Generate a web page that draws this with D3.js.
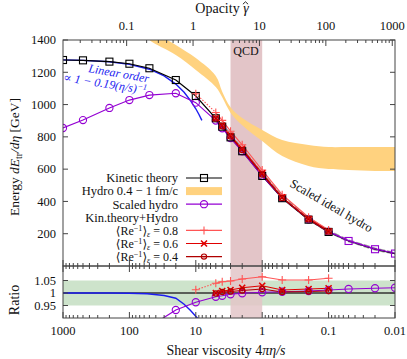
<!DOCTYPE html>
<html><head><meta charset="utf-8">
<script src="https://cdn.jsdelivr.net/npm/d3@7"></script>
<style>
body{margin:0;background:#fff}
text{font-family:"Liberation Serif","DejaVu Serif",serif;fill:#111}
</style>
</head><body>
<svg id="c" width="407" height="359"></svg>
<script>
// ---------------- DATA ----------------
const etaKin = [1000,500,200,100,50,20,10,5,4,3,2,1,0.5,0.2,0.1,0.05,0.02,0.01];
const eKin   = [1276,1274,1266,1253,1225,1152,1053,915,863,797,711,558,420,287,211,155,104,77];

const etaHyd = [1000,500,200,100,50,20,10,5,4,3,2,1,0.5,0.2,0.1,0.05,0.02,0.01];
const eHyd   = [855,904,979,1028,1059,1070,1012,901,853,793,710,559,422,289,213,157,106,79];
const rHyd   = [0.67,0.71,0.773,0.82,0.865,0.932,0.963,0.985,0.989,0.995,0.999,1.003,1.005,1.008,1.012,1.016,1.019,1.021];

const etaBand   = [60,50,20,10,5,4,3,2,1,0.5,0.2,0.1,0.05,0.02,0.01];
const bandUpper = [1520,1470,1369,1288,1177,1080,984,917,843,781,750,737,737,737,737];
const bandLower = [1440,1400,1307,1214,1109,1045,950,872,774,681,620,601,595,589,589];

const etaIdeal = [5,4,3,2,1,0.5,0.2,0.1,0.05,0.02,0.01];
const eIdeal   = [925,875,808,722,570,428,292,214,156,105,78];

const etaLin = [1000,500,200,100,50,30,20,15,12,10,9,8.1];
const eLin   = [1277,1274,1265,1249,1219,1178,1127,1076,1025,974,940,902];
const etaLinR = [1000,200,100,54,30,20,15,12,9.5,8.5];
const rLin    = [1.0,1.0,0.999,0.997,0.99,0.979,0.955,0.93,0.9,0.88];

const etaRe = [10,5,4,3,2,1,0.5,0.2,0.1];
const eRe08 = [1067,951,902,835,751,594,442,302,223];
const rRe08 = [1.013,1.039,1.045,1.048,1.056,1.065,1.052,1.052,1.059];
const etaRe2 = [5,4,3,2,1,0.5,0.2,0.1];
const eRe06 = [915,870,807,726,574,425,292,215];
const rRe06 = [1.0,1.008,1.012,1.021,1.029,1.012,1.016,1.019];
const eRe04 = [913,866,802,718,567,422,289,213];
const rRe04 = [0.998,1.004,1.006,1.01,1.016,1.004,1.006,1.008];

const yTicks = [200,400,600,800,1000,1200,1400];
const rTicks = [0.95,1,1.05];
const xTickLabels = [1000,100,10,1,0.1,0.01];
const gTickLabels = [0.1,1,10,100,1000];
const qcdRange = [3,1];

// ---------------- LAYOUT ----------------
const L=63,R=395,T=40,B=266,RB=318;
const svg=d3.select("#c");
const x=d3.scaleLog().domain([1000,0.01]).range([L,R]);
const xg=d3.scaleLog().domain([0.011,1100]).range([L,R]);
const y=d3.scaleLinear().domain([0,1400]).range([B,T]);
const yr=d3.scaleLinear().domain([0.9,1.108]).range([RB,B]);

const C={black:"#000",purple:"#9400d3",blue:"#1c1cf0",r8:"#ff5555",r6:"#e00000",r4:"#b00000",
  orange:"#ffd27f",qcd:"#e3c5c8",green:"#cde3cb",gray:"#a0a0a0",frame:"#444"};

const defs=svg.append("defs");
defs.append("clipPath").attr("id","cm").append("rect").attr("x",L).attr("y",T).attr("width",R-L).attr("height",B-T);
defs.append("clipPath").attr("id","cr").append("rect").attr("x",L).attr("y",B).attr("width",R-L).attr("height",RB-B);

const gm=svg.append("g").attr("clip-path","url(#cm)");
const gr=svg.append("g").attr("clip-path","url(#cr)");

// QCD bands
gm.append("rect").attr("x",x(qcdRange[0])).attr("width",x(qcdRange[1])-x(qcdRange[0])).attr("y",T).attr("height",B-T).attr("fill",C.qcd);
gr.append("rect").attr("x",L).attr("width",R-L).attr("y",yr(1.05)).attr("height",yr(0.95)-yr(1.05)).attr("fill",C.green);
gr.append("rect").attr("x",x(qcdRange[0])).attr("width",x(qcdRange[1])-x(qcdRange[0])).attr("y",B).attr("height",RB-B).attr("fill",C.qcd).attr("opacity",0.85);

// orange band
const bandData=etaBand.map((e,i)=>({e,u:bandUpper[i],l:bandLower[i]}));
gm.append("path").datum(bandData).attr("fill",C.orange)
  .attr("d",d3.area().x(d=>x(d.e)).y0(d=>y(d.l)).y1(d=>y(d.u)).curve(d3.curveCatmullRom));

function zip(xs,ys){return xs.map((e,i)=>({e,v:ys[i]}));}
function line(g,data,sc,color,w,dash){
  g.append("path").datum(data).attr("fill","none").attr("stroke",color).attr("stroke-width",w)
   .attr("stroke-dasharray",dash||null)
   .attr("d",d3.line().x(d=>x(d.e)).y(d=>sc(d.v)));
}
function marker(g,type,cx,cy,color){
  if(type==="sq") g.append("rect").attr("x",cx-3.5).attr("y",cy-3.5).attr("width",7).attr("height",7).attr("fill","none").attr("stroke",color).attr("stroke-width",1.1);
  else if(type==="ci") g.append("circle").attr("cx",cx).attr("cy",cy).attr("r",3.6).attr("fill","none").attr("stroke",color).attr("stroke-width",1.1);
  else if(type==="plus") g.append("path").attr("d",`M${cx-4},${cy}H${cx+4}M${cx},${cy-4}V${cy+4}`).attr("stroke",color).attr("stroke-width",1.1);
  else if(type==="x") g.append("path").attr("d",`M${cx-3},${cy-3}L${cx+3},${cy+3}M${cx-3},${cy+3}L${cx+3},${cy-3}`).attr("stroke",color).attr("stroke-width",1.6);
  else if(type==="di") {g.append("circle").attr("cx",cx).attr("cy",cy).attr("r",2.6).attr("fill","none").attr("stroke",color).attr("stroke-width",1.2);
    g.append("circle").attr("cx",cx).attr("cy",cy).attr("r",0.9).attr("fill",color);}
}

// main plot lines
line(gm,zip(etaIdeal,eIdeal),y,C.gray,3,"6,2");
line(gm,zip(etaLin,eLin),y,C.blue,1.4);
line(gm,zip(etaKin,eKin),y,C.black,1.2);
line(gm,zip(etaHyd,eHyd),y,C.purple,1.2);
line(gm,zip(etaRe.slice(0,2),eRe08.slice(0,2)),y,C.r8,1.1,"1.5,1.5");
line(gm,zip(etaRe.slice(1),eRe08.slice(1)),y,C.r8,1.1);
line(gm,zip(etaRe2,eRe06),y,C.r6,1.2);
line(gm,zip(etaRe2,eRe04),y,C.r4,1.2);
etaHyd.forEach((e,i)=>{ if(e>=0.1) marker(gm,"ci",x(e),y(eHyd[i]),C.purple); });
etaKin.forEach((e,i)=>marker(gm,"sq",x(e),y(eKin[i]),e<0.1?C.purple:C.black));
etaRe.forEach((e,i)=>marker(gm,"plus",x(e),y(eRe08[i]),C.r8));
etaRe2.forEach((e,i)=>marker(gm,"x",x(e),y(eRe06[i]),C.r6));
etaRe2.forEach((e,i)=>marker(gm,"di",x(e),y(eRe04[i]),C.r4));

// ratio panel
gr.append("line").attr("x1",L).attr("x2",R).attr("y1",yr(1)).attr("y2",yr(1)).attr("stroke","#333").attr("stroke-width",1.6);
line(gr,zip(etaLinR,rLin),yr,C.blue,1.4);
line(gr,zip(etaHyd,rHyd),yr,C.purple,1.2);
line(gr,zip(etaRe.slice(0,2),rRe08.slice(0,2)),yr,C.r8,1.1,"1.5,1.5");
line(gr,zip(etaRe.slice(1),rRe08.slice(1)),yr,C.r8,1.1);
line(gr,zip(etaRe2,rRe06),yr,C.r6,1.2);
line(gr,zip(etaRe2,rRe04),yr,C.r4,1.2);
etaHyd.forEach((e,i)=>{ if(rHyd[i]>0.9) marker(gr,"ci",x(e),yr(rHyd[i]),C.purple); });
etaRe.forEach((e,i)=>marker(gr,"plus",x(e),yr(rRe08[i]),C.r8));
etaRe2.forEach((e,i)=>marker(gr,"x",x(e),yr(rRe06[i]),C.r6));
etaRe2.forEach((e,i)=>marker(gr,"di",x(e),yr(rRe04[i]),C.r4));

// frames
svg.append("rect").attr("x",L).attr("y",T).attr("width",R-L).attr("height",B-T).attr("fill","none").attr("stroke",C.frame).attr("stroke-width",1);
svg.append("rect").attr("x",L).attr("y",B).attr("width",R-L).attr("height",RB-B).attr("fill","none").attr("stroke",C.frame).attr("stroke-width",1);

// ticks
const tk=svg.append("g").attr("stroke",C.frame).attr("stroke-width",1);
function logTicks(lo,hi){const out=[];for(let p=Math.floor(Math.log10(lo));p<=Math.ceil(Math.log10(hi));p++){for(let m=1;m<10;m++){const v=m*Math.pow(10,p);if(v>=lo*0.999&&v<=hi*1.001)out.push({v,major:m===1});}}return out;}
logTicks(0.01,1000).forEach(t=>{const xx=x(t.v),len=t.major?6:3;
  tk.append("line").attr("x1",xx).attr("x2",xx).attr("y1",B).attr("y2",B-len);
  tk.append("line").attr("x1",xx).attr("x2",xx).attr("y1",B).attr("y2",B+len);
  tk.append("line").attr("x1",xx).attr("x2",xx).attr("y1",RB).attr("y2",RB-len);});
logTicks(0.011,1100).forEach(t=>{const xx=xg(t.v),len=t.major?6:3;
  tk.append("line").attr("x1",xx).attr("x2",xx).attr("y1",T).attr("y2",T+len);});
yTicks.forEach(v=>{tk.append("line").attr("x1",L).attr("x2",L+5).attr("y1",y(v)).attr("y2",y(v));
  tk.append("line").attr("x1",R).attr("x2",R-5).attr("y1",y(v)).attr("y2",y(v));});
rTicks.forEach(v=>{tk.append("line").attr("x1",L).attr("x2",L+5).attr("y1",yr(v)).attr("y2",yr(v));
  tk.append("line").attr("x1",R).attr("x2",R-5).attr("y1",yr(v)).attr("y2",yr(v));});

// tick labels
const fs=12.5;
yTicks.forEach(v=>svg.append("text").attr("x",56).attr("y",y(v)+4.3).attr("text-anchor","end").attr("font-size",fs).text(v));
rTicks.forEach(v=>svg.append("text").attr("x",56).attr("y",yr(v)+4.3).attr("text-anchor","end").attr("font-size",fs).text(v));
xTickLabels.forEach(v=>svg.append("text").attr("x",x(v)).attr("y",335).attr("text-anchor","middle").attr("font-size",fs).text(v));
gTickLabels.forEach(v=>svg.append("text").attr("x",xg(v)).attr("y",30).attr("text-anchor","middle").attr("font-size",fs).text(v));

// axis titles
const t1=svg.append("text").attr("x",226).attr("y",355).attr("text-anchor","middle").attr("font-size",14);
t1.append("tspan").text("Shear viscosity 4");t1.append("tspan").attr("font-style","italic").text("πη/s");
const t2=svg.append("text").attr("x",222).attr("y",13).attr("text-anchor","middle").attr("font-size",14);
t2.append("tspan").text("Opacity ");t2.append("tspan").attr("font-style","italic").text("γ");
// hat over gamma (drawn accent)
const t2w=t2.node().getComputedTextLength();
const hx=222+t2w/2-3.2;
svg.append("path").attr("d",`M${hx-2.6},${4.2}L${hx},${1.8}L${hx+2.6},${4.2}`).attr("fill","none").attr("stroke","#111").attr("stroke-width",0.9);
const t3=svg.append("text").attr("transform","translate(19,157) rotate(-90)").attr("text-anchor","middle").attr("font-size",13.5);
t3.append("tspan").text("Energy ");t3.append("tspan").attr("font-style","italic").text("dE");
t3.append("tspan").attr("font-size",9.5).attr("dy",3).text("tr");
t3.append("tspan").attr("dy",-3).attr("font-style","italic").text("/dη");
t3.append("tspan").text(" [GeV]");
svg.append("text").attr("transform","translate(19,300) rotate(-90)").attr("text-anchor","middle").attr("font-size",14).text("Ratio");

// annotations
svg.append("text").attr("x",246).attr("y",55).attr("text-anchor","middle").attr("font-size",12).text("QCD");
svg.append("text").attr("transform","translate(88,72) rotate(10)").attr("font-size",12).attr("font-style","italic").style("fill",C.blue).text("Linear order");
const la=svg.append("text").attr("transform","translate(63,81) rotate(9)").attr("font-size",12).attr("font-style","italic").style("fill",C.blue);
la.append("tspan").text("∝ 1 − 0.19(η/s)");la.append("tspan").attr("font-size",8.5).attr("dy",-4).text("−1");
svg.append("text").attr("transform","translate(289,186) rotate(30)").attr("font-size",12.5).text("Scaled ideal hydro");

// legend
const lg=svg.append("g");
const lx=178, sx0=186, sx1=222, smid=204;
const rows=[
 {lab:["Kinetic theory"],type:"line",c:C.black,m:"sq"},
 {lab:["Hydro 0.4 − 1 fm/c"],type:"band"},
 {lab:["Scaled hydro"],type:"line",c:C.purple,m:"ci"},
 {lab:["Kin.theory+Hydro"],type:"none"},
 {re:"0.8",type:"line",c:C.r8,m:"plus"},
 {re:"0.6",type:"line",c:C.r6,m:"x"},
 {re:"0.4",type:"line",c:C.r4,m:"di"}];
rows.forEach((r,i)=>{const yy=178+i*13.1;
  const t=lg.append("text").attr("x",lx).attr("y",yy+4.3).attr("text-anchor","end").attr("font-size",r.re?12:fs);
  if(r.re){t.append("tspan").text("⟨Re");t.append("tspan").attr("font-size",8).attr("dy",-3.5).text("−1");
    t.append("tspan").attr("dy",3.5).text("⟩");t.append("tspan").attr("font-size",8).attr("dy",2).attr("font-style","italic").text("ε");
    t.append("tspan").attr("dy",-2).text(" = "+r.re);}
  else t.text(r.lab[0]);
  if(r.type==="line"){lg.append("line").attr("x1",sx0).attr("x2",sx1).attr("y1",yy).attr("y2",yy).attr("stroke",r.c).attr("stroke-width",1.2);
    marker(lg,r.m,smid,yy,r.c);}
  else if(r.type==="band") lg.append("rect").attr("x",sx0).attr("y",yy-4).attr("width",sx1-sx0).attr("height",8).attr("fill",C.orange);
});
</script>
</body></html>
